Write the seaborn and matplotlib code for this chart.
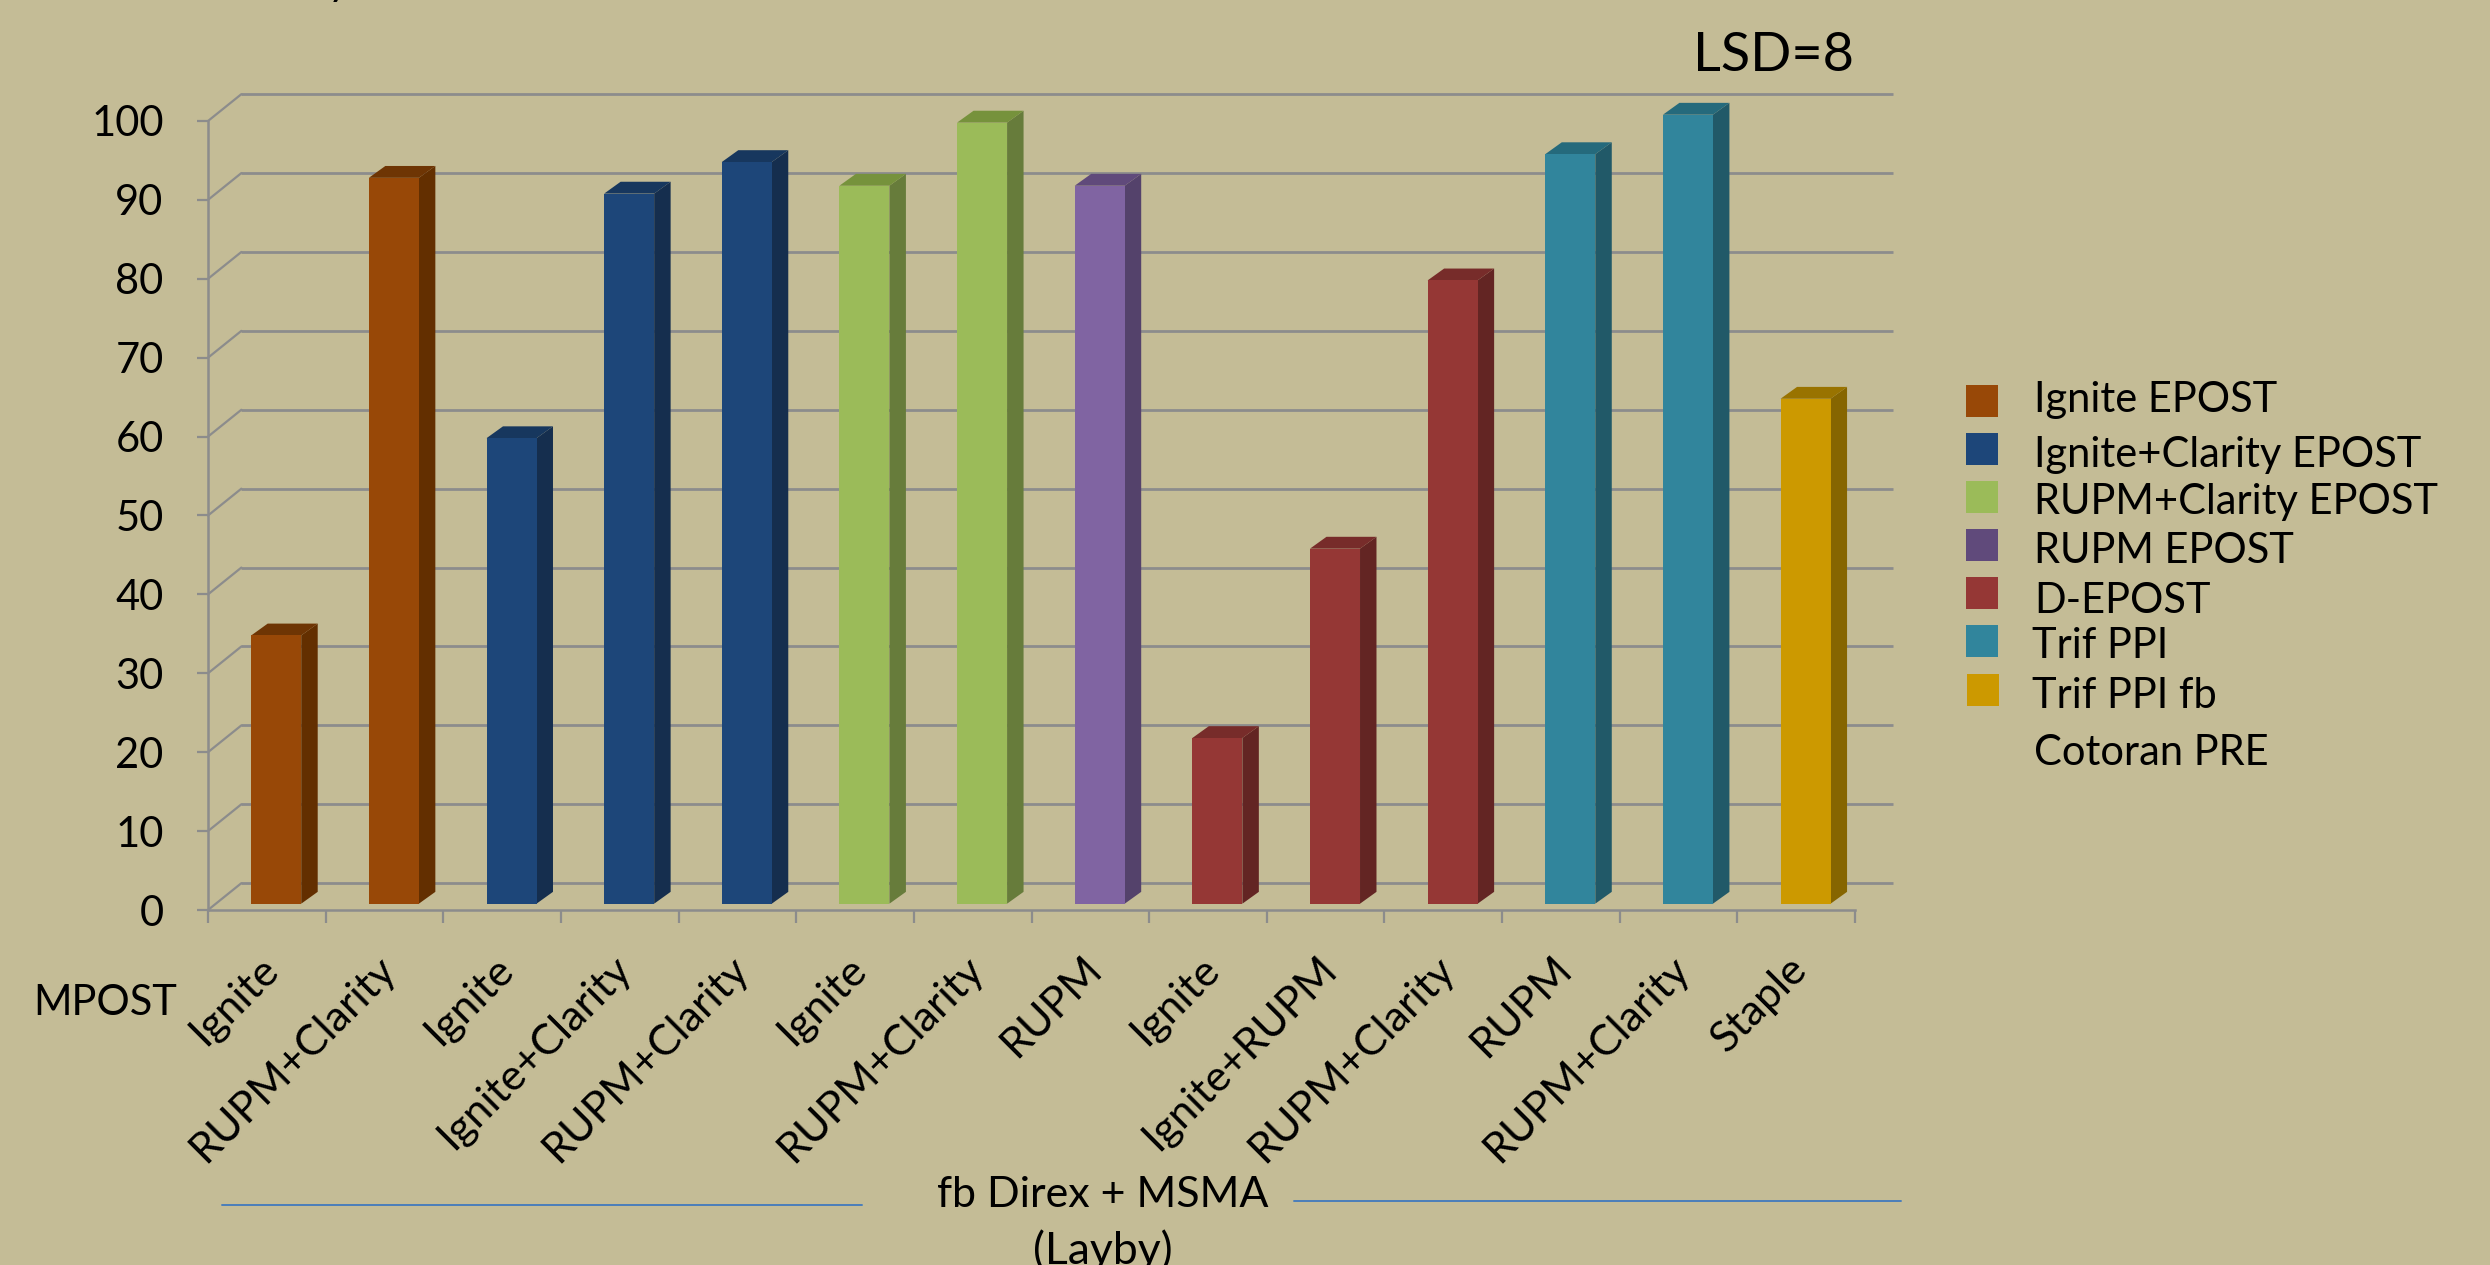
import matplotlib
matplotlib.use("Agg")
import matplotlib.pyplot as plt
import numpy as np
import pandas as pd
import seaborn as sns
from matplotlib.lines import Line2D
from matplotlib.patches import Polygon, Rectangle

# Treatments, in the order they appear along the x axis
mpost_labels = ["Ignite", "RUPM+Clarity", "Ignite", "Ignite+Clarity", "RUPM+Clarity",
                "Ignite", "RUPM+Clarity", "RUPM", "Ignite", "Ignite+RUPM",
                "RUPM+Clarity", "RUPM", "RUPM+Clarity", "Staple"]
epost_groups = ["Ignite EPOST", "Ignite EPOST", "Ignite+Clarity EPOST", "Ignite+Clarity EPOST",
                "Ignite+Clarity EPOST", "RUPM+Clarity EPOST", "RUPM+Clarity EPOST", "RUPM EPOST",
                "D-EPOST", "D-EPOST", "D-EPOST", "Trif PPI", "Trif PPI", "Trif PPI fb"]
control = [34, 92, 59, 90, 94, 91, 99, 91, 21, 45, 79, 95, 100, 64]
y_ticks = [0, 10, 20, 30, 40, 50, 60, 70, 80, 90, 100]

legend_labels = ["Ignite EPOST", "Ignite+Clarity EPOST", "RUPM+Clarity EPOST", "RUPM EPOST",
                 "D-EPOST", "Trif PPI", "Trif PPI fb"]
face_colors = ["#984807", "#1D4679", "#9BBB59", "#8064A2", "#953735", "#31859C", "#CC9900"]
key_colors = ["#984807", "#1D4679", "#9BBB59", "#604A7B", "#953735", "#31859C", "#CC9900"]
side_colors = ["#632F00", "#152E4E", "#677C3B", "#54426B", "#632523", "#215968", "#866500"]
top_colors = ["#6E3504", "#17375E", "#76923C", "#604A7B", "#772C2A", "#256A7C", "#997300"]

BG = "#C4BC96"
GRID = "#8C8C8C"
W, H = 2490, 1265

sns.set_theme(style="white", rc={"axes.facecolor": "none", "figure.facecolor": BG,
                                 "savefig.facecolor": BG})
plt.rcParams["font.family"] = ["Lato", "DejaVu Sans"]

fig = plt.figure(figsize=(W / 100, H / 100), dpi=100)
# Axes rectangle is the front plane of the pseudo-3D chart
ax = fig.add_axes([208 / W, 1 - 910 / H, (1855 - 208) / W, (910 - 121) / H])

df = pd.DataFrame({"pos": range(len(control)), "value": control, "group": epost_groups})
sns.barplot(data=df, x="pos", y="value", hue="group", hue_order=legend_labels,
            palette=face_colors, dodge=False, width=0.425, saturation=1,
            legend=False, ax=ax, zorder=3, linewidth=0)

shift = 0.08        # bars sit slightly right of the slot centre
front_drop = 0.8    # front floor edge lies below the bars' base
back_rise = 2.6     # back wall lies above the bars' base
wall_dx = 0.2835
depth_x, depth_y = 0.14, 1.5
n = len(control)
ax.set_xlim(-0.5 - shift, n - 0.5 - shift)
ax.set_ylim(-front_drop, 100 - front_drop)

# Side and top faces that give each bar its depth
for container, side, top in zip(ax.containers, side_colors, top_colors):
    for bar in container:
        h = bar.get_height()
        if not np.isfinite(h) or h <= 0:
            continue
        bar.set_clip_on(False)
        x0, x1 = bar.get_x(), bar.get_x() + bar.get_width()
        ax.add_patch(Polygon([(x1, 0), (x1 + depth_x, depth_y), (x1 + depth_x, h + depth_y), (x1, h)],
                             closed=True, fc=side, ec="none", zorder=2.9, clip_on=False))
        ax.add_patch(Polygon([(x0, h), (x0 + depth_x, h + depth_y), (x1 + depth_x, h + depth_y), (x1, h)],
                             closed=True, fc=top, ec="none", zorder=2.9, clip_on=False))

# Back-wall gridlines and the slanted left-wall segments
left, right = ax.get_xlim()
for v in y_ticks:
    ax.plot([left + wall_dx, right + wall_dx + 0.04], [v + back_rise, v + back_rise],
            color=GRID, lw=2, zorder=1, clip_on=False, solid_capstyle="butt")
    ax.plot([left, left + wall_dx], [v - front_drop, v + back_rise],
            color=GRID, lw=1.6, zorder=1, clip_on=False)

# Front axes: tick marks on slot boundaries, labels at slot centres
ax.set_yticks(np.array(y_ticks) - front_drop, [str(v) for v in y_ticks])
ax.set_xticks(np.arange(n + 1) - 0.5 - shift, [""] * (n + 1))
ax.set_xticks(np.arange(n) - shift + 0.04, mpost_labels, minor=True)
ax.tick_params(axis="y", length=8, width=1.6, color=GRID, labelsize=30, labelcolor="black", pad=24, left=True)
ax.tick_params(axis="x", which="major", length=9.5, width=1.6, color=GRID, bottom=True)
ax.tick_params(axis="x", which="minor", length=0, labelsize=31, labelcolor="black", pad=38, bottom=False)
for label in ax.get_xticklabels(minor=True):
    label.set(rotation=45, ha="right", va="center", rotation_mode="anchor")
ax.set_xlabel("")
ax.set_ylabel("")
sns.despine(ax=ax, top=True, right=True)
for name in ("left", "bottom"):
    ax.spines[name].set(color=GRID, linewidth=1.8)


def fig_xy(x, y):
    return x / W, 1 - y / H


def put_text(x, baseline, s, size=30, **kw):
    fx, fy = fig_xy(x, baseline)
    fig.text(fx, fy, s, fontsize=size, color="black", va="baseline", **kw)


# Legend keys and entries
key_tops = [385, 433, 481, 529, 577, 625, 674]
key_lefts = [1966, 1966, 1966, 1966, 1966, 1966, 1967]
text_lines = [412, 467, 514, 563, 613, 658, 708]
text_lefts = [2034, 2034, 2034, 2034, 2034, 2032, 2032]
for kx, ky, color in zip(key_lefts, key_tops, key_colors):
    fx, fy = fig_xy(kx, ky + 32)
    fig.add_artist(Rectangle((fx, fy), 32 / W, 32 / H, transform=fig.transFigure, fc=color, ec="none"))
for tx, ty, s in zip(text_lefts, text_lines, legend_labels):
    put_text(tx, ty, s)
put_text(2034, 765, "Cotoran PRE")

# Annotations around the plot
put_text(1693, 71, "LSD=8", size=39)
put_text(33, 1015, "MPOST")
put_text(1103, 1207, "fb Direx + MSMA", size=31, ha="center")
put_text(1103, 1264, "(Layby)", size=32, ha="center")
put_text(328, -5, "y", size=30)

# Bracket lines on either side of the tillage label
for (x0, x1, y) in [(222, 862, 1205), (1294, 1901, 1201)]:
    a = fig_xy(x0, y)
    b = fig_xy(x1, y)
    fig.add_artist(Line2D([a[0], b[0]], [a[1], b[1]], transform=fig.transFigure,
                          color="#4A7EBB", lw=1.4))

fig.savefig("out.png", dpi=100, facecolor=BG)
